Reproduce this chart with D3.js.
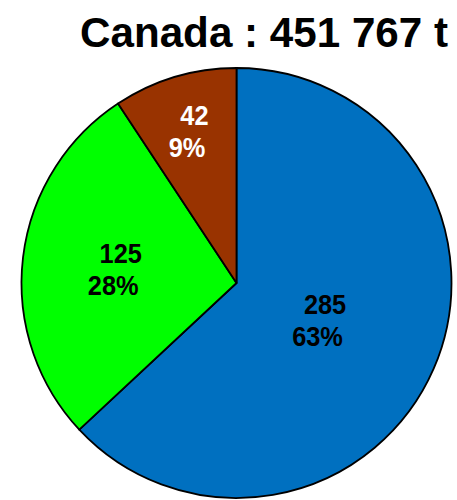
<!DOCTYPE html>
<html>
<head>
<meta charset="utf-8">
<script src="https://cdn.jsdelivr.net/npm/d3@7"></script>
<style>
  html, body { margin: 0; padding: 0; background: #fff; }
  svg { display: block; }
</style>
</head>
<body>
<svg id="chart" width="457" height="500"></svg>
<script>
// Data
const title = "Canada : 451 767 t";
const categories = ["A", "B", "C"];
const values = [285, 125, 42];
const percents = ["63%", "28%", "9%"];
const colors = ["#0070C0", "#00FF00", "#993300"];
const textColors = ["#000000", "#000000", "#FFFFFF"];
const labelRadiusFactor = [0.43, 0.56, 0.74];

const svg = d3.select("#chart");
const cx = 236.5, cy = 283, r = 215;

svg.append("text")
  .attr("x", 448).attr("y", 47)
  .attr("text-anchor", "end")
  .attr("font-family", "Liberation Sans, Arial, sans-serif")
  .attr("font-weight", "bold")
  .attr("font-size", 43)
  .attr("textLength", 368)
  .attr("lengthAdjust", "spacingAndGlyphs")
  .attr("fill", "#000")
  .text(title);

const pie = d3.pie().sort(null).value(d => d)(values);
const arc = d3.arc().innerRadius(0).outerRadius(r);

const g = svg.append("g").attr("transform", `translate(${cx},${cy})`);

g.selectAll("path.slice")
  .data(pie)
  .enter().append("path")
  .attr("class", "slice")
  .attr("d", arc)
  .attr("fill", (d, i) => colors[i])
  .attr("stroke", "#000")
  .attr("stroke-width", 1.8)
  .attr("stroke-linejoin", "round");

const labels = g.selectAll("g.lab")
  .data(pie)
  .enter().append("g")
  .attr("class", "lab")
  .attr("transform", (d, i) => {
    const lr = r * labelRadiusFactor[i];
    const c = d3.arc().innerRadius(lr).outerRadius(lr).centroid(d);
    return `translate(${c[0]},${c[1]}) scale(0.94,1)`;
  });

labels.append("text")
  .attr("x", 4).attr("y", -6)
  .attr("text-anchor", "middle")
  .attr("font-family", "Liberation Sans, Arial, sans-serif")
  .attr("font-weight", "bold")
  .attr("font-size", 27)
  .attr("fill", (d, i) => textColors[i])
  .text(d => d.data);

labels.append("text")
  .attr("x", -4).attr("y", 26)
  .attr("text-anchor", "middle")
  .attr("font-family", "Liberation Sans, Arial, sans-serif")
  .attr("font-weight", "bold")
  .attr("font-size", 27)
  .attr("fill", (d, i) => textColors[i])
  .text((d, i) => percents[i]);
</script>
</body>
</html>
